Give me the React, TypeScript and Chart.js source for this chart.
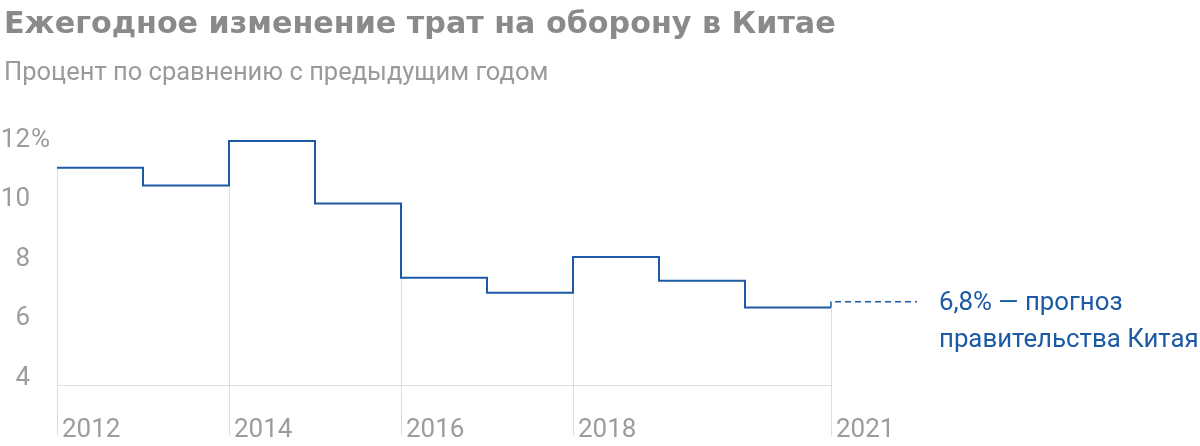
import React, { useEffect, useRef } from "react";
import { Chart, registerables } from "chart.js";

Chart.register(...registerables);

const title = "Ежегодное изменение трат на оборону в Китае";
const subtitle = "Процент по сравнению с предыдущим годом";
const noteLines = ["6,8% — прогноз", "правительства Китая"];

const years = [2012, 2013, 2014, 2015, 2016, 2017, 2018, 2019, 2020, 2021];
const values = [11.3, 10.7, 12.2, 10.1, 7.6, 7.1, 8.3, 7.5, 6.6, 6.6];
const forecastYears = [2021, 2021, 2022];
const forecastValues = [6.6, 6.8, 6.8];

const yTicks = [4, 6, 8, 10, 12];
const xTickYears = [2012, 2014, 2016, 2018, 2021];

const BLUE = "#1c5aa6";
const GRID = "#dedede";
const LABEL = "#9c9c9c";
const FONT = "Roboto, 'Noto Sans', sans-serif";

function valueAt(year: number): number {
  const i = years.indexOf(year);
  if (i <= 0) return values[Math.max(i, 0)];
  return Math.min(values[i], values[i - 1]);
}

const decorPlugin = {
  id: "decor",
  beforeDatasetsDraw(chart: any) {
    const { ctx, scales, chartArea } = chart;
    const xs = scales.x;
    const ys = scales.y;
    const bottom = chartArea.bottom + 51;
    const baseY = Math.round(ys.getPixelForValue(4)) + 0.5;
    ctx.save();
    ctx.strokeStyle = GRID;
    ctx.lineWidth = 1;
    ctx.beginPath();
    ctx.moveTo(xs.getPixelForValue(years[0]), baseY);
    ctx.lineTo(xs.getPixelForValue(years[years.length - 1]), baseY);
    ctx.stroke();
    xTickYears.forEach((yr) => {
      const x = Math.round(xs.getPixelForValue(yr)) + 0.5;
      const top = ys.getPixelForValue(valueAt(yr));
      ctx.beginPath();
      ctx.moveTo(x, top);
      ctx.lineTo(x, bottom);
      ctx.stroke();
    });
    ctx.fillStyle = LABEL;
    ctx.font = `26px ${FONT}`;
    ctx.textBaseline = "alphabetic";
    ctx.textAlign = "left";
    xTickYears.forEach((yr) => {
      const x = xs.getPixelForValue(yr);
      ctx.fillText(String(yr), x + 5, bottom + 1);
    });
    yTicks.forEach((v, i) => {
      const y = ys.getPixelForValue(v);
      ctx.textAlign = "right";
      ctx.fillText(String(v), 30, y);
      if (i === yTicks.length - 1) {
        ctx.textAlign = "left";
        ctx.fillText("%", 31, y);
      }
    });
    ctx.restore();
  },
};

export default function App() {
  const ref = useRef<HTMLCanvasElement | null>(null);

  useEffect(() => {
    if (!ref.current) return;
    const chart = new Chart(ref.current, {
      type: "line",
      data: {
        datasets: [
          {
            data: years.map((x, i) => ({ x, y: values[i] })),
            borderColor: BLUE,
            borderWidth: 2,
            stepped: "before",
            pointRadius: 0,
            fill: false,
            clip: false as any,
            borderJoinStyle: "miter",
          },
          {
            data: forecastYears.map((x, i) => ({ x, y: forecastValues[i] })),
            borderColor: BLUE,
            borderWidth: 1.5,
            borderDash: [6, 4],
            pointRadius: 0,
            fill: false,
            clip: false as any,
          },
        ],
      },
      options: {
        responsive: false,
        animation: false,
        devicePixelRatio: 1,
        events: [],
        layout: { padding: { left: 57, right: 283, top: 132, bottom: 61 } },
        scales: {
          x: { type: "linear", min: 2012, max: 2022, display: false },
          y: { type: "linear", min: 4, max: 12.5, display: false },
        },
        plugins: {
          legend: { display: false },
          tooltip: { enabled: false },
        },
      },
      plugins: [decorPlugin],
    });
    return () => chart.destroy();
  }, []);

  return (
    <div style={{ position: "absolute", left: 0, top: 0, width: 1200, height: 446, background: "#fff", overflow: "hidden" }}>
      <canvas ref={ref} width={1200} height={446} style={{ position: "absolute", left: 0, top: 0 }} />
      <div
        style={{
          position: "absolute",
          left: 4,
          top: 8,
          fontFamily: "'DejaVu Sans', sans-serif",
          fontWeight: 700,
          fontSize: 30.2,
          lineHeight: "30px",
          color: "#8a8a8a",
          whiteSpace: "nowrap",
        }}
      >
        {title}
      </div>
      <div
        style={{
          position: "absolute",
          left: 4,
          top: 59,
          fontFamily: FONT,
          fontSize: 25.5,
          lineHeight: "25.5px",
          color: "#9a9a9a",
          whiteSpace: "nowrap",
        }}
      >
        {subtitle}
      </div>
      <div
        style={{
          position: "absolute",
          left: 939,
          top: 283,
          fontFamily: FONT,
          fontSize: 25.8,
          lineHeight: "37px",
          color: BLUE,
          whiteSpace: "nowrap",
        }}
      >
        {noteLines.map((l) => (
          <div key={l}>{l}</div>
        ))}
      </div>
    </div>
  );
}
